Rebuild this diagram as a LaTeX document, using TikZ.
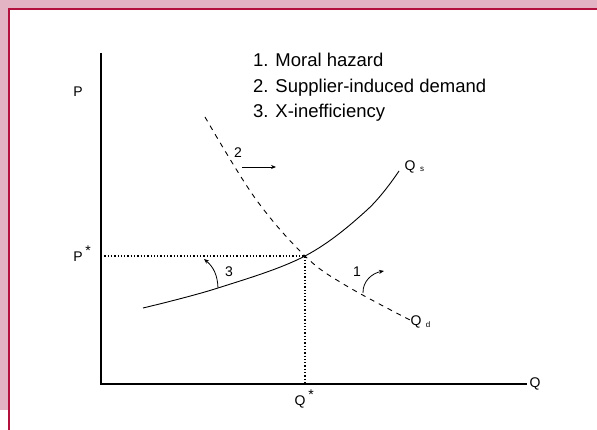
\documentclass[tikz,border=0pt]{standalone}
\usepackage{fontspec}
\setmainfont{Liberation Sans}
\usetikzlibrary{arrows.meta}
\definecolor{framepink}{HTML}{E3B5C4}
\definecolor{framered}{HTML}{B3123F}

\begin{document}
\begin{tikzpicture}[x=1pt, y=-1pt,
    axis/.style={line width=1.2pt},
    guide/.style={dotted, line width=1.3pt},
    curve/.style={line width=0.9pt},
    shiftarrow/.style={line width=0.8pt, -{Stealth[length=5pt,width=4pt]}},
    lbl/.style={inner sep=0pt, font=\fontsize{14}{16}\selectfont},
    sub/.style={inner sep=0pt, font=\fontsize{8}{9}\selectfont},
    legend/.style={inner sep=0pt, anchor=base west, font=\fontsize{18.5}{22}\selectfont}]
    \useasboundingbox (0,0) rectangle (597,430);
    % frame
    \fill[framepink] (0,0) rectangle (597,9);
    \fill[framepink] (0,0) rectangle (9,410);
    \draw[framered, line width=1.4pt] (9,430) -- (9,9) -- (597,9);
    % axes
    \coordinate (o) at (101,384);
    \coordinate (ytop) at (101,53);
    \coordinate (xend) at (527,384);
    \draw[axis] (ytop) -- (o) -- (xend);
    \node[lbl] (P) at (78,92) {P};
    \node[lbl] (Q) at (535,384) {Q};
    % equilibrium
    \coordinate (E) at (305,256);
    \coordinate (Ey) at (101,256);
    \coordinate (Ex) at (305,384);
    \draw[guide] (Ey) -- (E) -- (Ex);
    \node[lbl] (Pstar) at (78,257) {P};
    \node[lbl] at (88,251) {*};
    \node[lbl] (Qstar) at (300,402) {Q};
    \node[lbl] at (311,395) {*};
    % supply and demand
    \draw[curve] plot[smooth, tension=0.6] coordinates {(143,308) (218,288) (E) (367,210) (399,171)};
    \draw[curve, dashed, dash pattern=on 5pt off 5pt] plot[smooth, tension=0.6] coordinates {(205,117) (255,198) (E) (345,285) (410,320)};
    \node[lbl] (Qs) at (410,167) {Q};
    \node[sub] at (422,169) {s};
    \node[lbl] (Qd) at (416,322) {Q};
    \node[sub] at (428,325) {d};
    % shifts
    \coordinate (a1) at (363,293);
    \coordinate (b1) at (384,271);
    \coordinate (a2) at (242,167);
    \coordinate (b2) at (276,167);
    \coordinate (a3) at (218,288);
    \coordinate (b3) at (204,259);
    \draw[shiftarrow] (a1) to[out=92, in=190] (b1);
    \draw[shiftarrow] (a2) -- (b2);
    \draw[shiftarrow] (a3) to[out=92, in=-40] (b3);
    \node[lbl] (n1) at (357,272) {1};
    \node[lbl] (n2) at (238,153) {2};
    \node[lbl] (n3) at (229,272) {3};
    % legend
    \node[legend] (l1) at (253,67) {1. Moral hazard};
    \node[legend] (l2) at (253,92.5) {2. Supplier-induced demand};
    \node[legend] (l3) at (253,118) {3. X-inefficiency};
\end{tikzpicture}
\end{document}
